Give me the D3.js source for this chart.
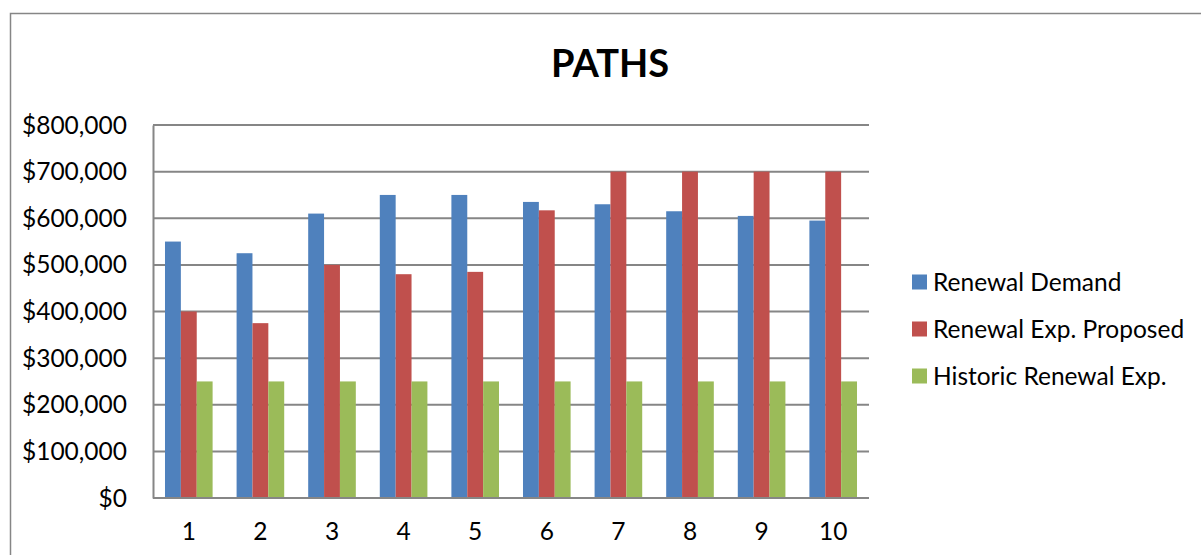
<!DOCTYPE html>
<html><head><meta charset="utf-8">
<script src="https://cdn.jsdelivr.net/npm/d3@7"></script>
<style>body{margin:0;background:#fff}svg{display:block}text{font-family:Lato,"Open Sans",sans-serif;fill:#000}</style>
</head><body><svg id="c" width="1201" height="555"></svg>
<script>
const categories = ["1","2","3","4","5","6","7","8","9","10"];
const seriesNames = ["Renewal Demand","Renewal Exp. Proposed","Historic Renewal Exp."];
const renewalDemand = [550000,525000,610000,650000,650000,635000,630000,615000,605000,595000];
const renewalProposed = [400000,375000,500000,480000,485000,617000,700000,700000,700000,700000];
const historicRenewal = [250000,250000,250000,250000,250000,250000,250000,250000,250000,250000];
const yTicks = [0,100000,200000,300000,400000,500000,600000,700000,800000];
const colors = ["#4F81BD","#C0504D","#9BBB59"];
const title = "PATHS";

const series = [renewalDemand, renewalProposed, historicRenewal];
const svg = d3.select("#c");
svg.append("rect").attr("x",10.5).attr("y",13.5).attr("width",1300).attr("height",700)
  .attr("fill","#fff").attr("stroke","#868686").attr("stroke-width",1.5);

const L=153, R=869, T=125, B=498;
const x = d3.scaleBand().domain(categories).range([L,R]).paddingInner(0.335).paddingOuter(0.1675);
const xs = d3.scaleBand().domain(d3.range(3)).range([0,x.bandwidth()]);
const y = d3.scaleLinear().domain([0,800000]).range([B,T]);

// gridlines
svg.append("g").selectAll("line").data(yTicks.filter(d=>d>0)).join("line")
  .attr("x1",L).attr("x2",R).attr("y1",d=>y(d)).attr("y2",d=>y(d))
  .attr("stroke","#868686").attr("stroke-width",2);

// bars
const g = svg.append("g");
categories.forEach((c,i)=>{
  series.forEach((s,j)=>{
    g.append("rect").attr("x",x(c)+xs(j)).attr("width",xs.bandwidth())
      .attr("y",y(s[i])).attr("height",B-y(s[i])).attr("fill",colors[j]);
  });
});

// y axis
const fmt = d=>"$"+d3.format(",")(d);
const ya = svg.append("g").attr("transform",`translate(${L},0)`)
  .call(d3.axisLeft(y).tickValues(yTicks).tickFormat(fmt).tickSize(0).tickPadding(26));
ya.select(".domain").attr("stroke","#868686").attr("stroke-width",2);
ya.selectAll("text").attr("font-size",24.5).attr("font-family","Lato").attr("dy","0.33em");

// x axis
const xa = svg.append("g").attr("transform",`translate(0,${B})`)
  .call(d3.axisBottom(x).tickSize(0).tickPadding(25));
xa.select(".domain").attr("stroke","#868686").attr("stroke-width",2).attr("d",`M${L},0H${R}`);
xa.selectAll("text").attr("font-size",24.5).attr("font-family","Lato");

// title
svg.append("text").attr("x",610).attr("y",77).attr("text-anchor","middle")
  .attr("font-size",38).attr("font-weight","bold").text(title);

// legend
const lg = svg.append("g");
seriesNames.forEach((n,i)=>{
  const cy = 282 + i*47;
  lg.append("rect").attr("x",912).attr("y",cy-7.5).attr("width",15).attr("height",15).attr("fill",colors[i]);
  lg.append("text").attr("x",933).attr("y",cy).attr("dy","0.35em").attr("font-size",24.5).text(n);
});
</script></body></html>
